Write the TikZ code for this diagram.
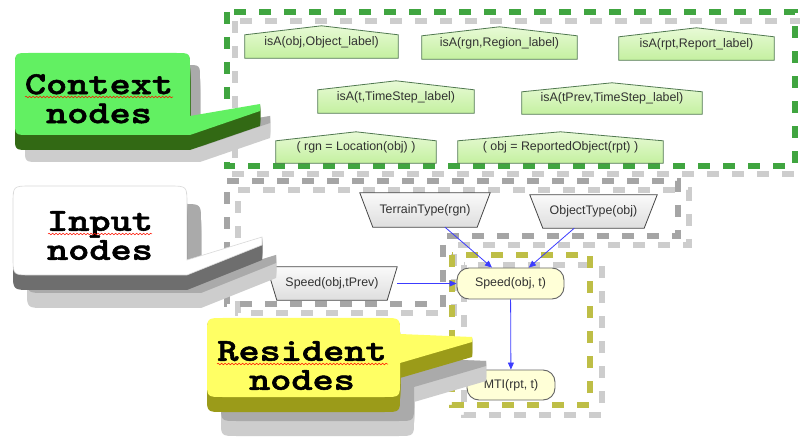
\documentclass[tikz,border=0pt]{standalone}
\usepackage{fontspec}
\setmainfont{Liberation Sans}
\newfontfamily\calfont{lmmonolt10-bold.otf}[FakeBold=1.6]
\usetikzlibrary{arrows.meta,calc,decorations.pathmorphing}
\pgfdeclarelayer{boxes}
\pgfdeclarelayer{shapes}
\pgfsetlayers{boxes,shapes,main}

\definecolor{ctxface}{RGB}{98,240,98}
\definecolor{ctxdepth}{RGB}{50,105,20}
\definecolor{inface}{RGB}{255,255,255}
\definecolor{indepth}{RGB}{110,110,110}
\definecolor{resface}{RGB}{255,255,100}
\definecolor{resdepth}{RGB}{155,155,25}
\definecolor{shadowmid}{RGB}{170,170,170}
\definecolor{shadowlight}{RGB}{205,205,205}
\definecolor{greendash}{RGB}{64,165,64}
\definecolor{graydash}{RGB}{165,165,165}
\definecolor{lightdash}{RGB}{205,205,205}
\definecolor{olivedash}{RGB}{190,190,70}
\definecolor{housetop}{RGB}{232,250,214}
\definecolor{housebot}{RGB}{196,240,160}
\definecolor{houseline}{RGB}{80,120,80}
\definecolor{traptop}{RGB}{250,250,250}
\definecolor{trapbot}{RGB}{222,222,222}
\definecolor{trapline}{RGB}{70,70,70}
\definecolor{resfill}{RGB}{255,255,215}
\definecolor{resline}{RGB}{100,100,100}
\definecolor{arrowblue}{RGB}{60,60,255}
\definecolor{txtgray}{RGB}{50,50,50}

\tikzset{
  ctxpath/.style={insert path={(29,53) -- (176,53) .. controls (190,53) .. (190,67) -- (190,116) -- (260,104) -- (260,111) -- (190,135) -- (29,135) .. controls (15,135) .. (15,121) -- (15,67) .. controls (15,53) .. (29,53) -- cycle}},
  inpath/.style={insert path={(31,186) -- (169,186) .. controls (187,186) .. (187,204) -- (187,260) -- (262,237) -- (262,245) -- (187,275) -- (31,275) .. controls (13,275) .. (13,257) -- (13,204) .. controls (13,186) .. (31,186) -- cycle}},
  respath/.style={insert path={(223,318) -- (384,318) .. controls (400,318) .. (400,334) -- (472,337) -- (472,342) -- (400,363) -- (400,381) .. controls (400,397) .. (384,397) -- (223,397) .. controls (207,397) .. (207,381) -- (207,334) .. controls (207,318) .. (223,318) -- cycle}},
  dashbox/.style={line width=5.5pt, dash pattern=on 12pt off 13pt},
  greenbox/.style={dashbox, draw=greendash},
  graybox/.style={dashbox, draw=graydash},
  lightbox/.style={dashbox, draw=lightdash},
  olivebox/.style={dashbox, draw=olivedash},
  nodetext/.style={font=\fontsize{12.4}{14}\selectfont, text=txtgray, inner sep=0pt},
  housestyle/.style={draw=houseline, line width=0.8pt, top color=housetop, bottom color=housebot},
  trapstyle/.style={draw=trapline, line width=0.8pt, top color=traptop, bottom color=trapbot},
  resnode/.style={nodetext, draw=resline, line width=0.9pt, fill=resfill, rounded corners=12pt},
  calltext/.style={font=\calfont\fontsize{32}{29}\selectfont, text=black, inner sep=0pt, align=center, anchor=north, xscale=1.26},
  squig/.style={draw=red!85!orange, line width=0.5pt, decorate, decoration={snake, amplitude=0.8pt, segment length=3.5pt}},
  arr/.style={draw=arrowblue, line width=0.8pt, -{Triangle[length=7pt,width=6pt]}}
}

\newcommand\housenode[7]{%
  \node[nodetext, minimum width={#3-#2}, minimum height={#6-#4}] (#1) at ({(#2+#3)/2},{(#4+#6)/2}) {#7};
  \begin{pgfonlayer}{shapes}
    \draw[housestyle] (#1.south west) -- ($(#1.north west)+(0,#5-#4)$) -- (#1.north) -- ($(#1.north east)+(0,#5-#4)$) -- (#1.south east) -- cycle;
  \end{pgfonlayer}}

\newcommand\trapnode[7]{%
  \node[nodetext, minimum width={#3-#2}, minimum height={#6-#5}] (#1) at ({(#2+#3)/2},{(#5+#6)/2}) {#7};
  \begin{pgfonlayer}{shapes}
    \draw[trapstyle] (#1.north west) -- (#1.north east) -- ($(#1.south east)+(-#4,0)$) -- ($(#1.south west)+(#4,0)$) -- cycle;
  \end{pgfonlayer}}

\newcommand\calloutshape[5]{%
  \foreach \d in {0,...,15}{\fill[shadowlight, shift={(#4,#5+\d)}, #1];}
  \fill[shadowmid, shift={(#4,#5)}, #1];
  \foreach \d in {1,...,15}{\fill[#3, shift={(0,\d)}, #1];}
  \fill[#2, #1];}

\begin{document}
\begin{tikzpicture}[x=1pt, y=-1pt]
\useasboundingbox (0,0) rectangle (800,443);

% dashed group outlines
\begin{pgfonlayer}{boxes}
  \fill[white] (0,0) rectangle (800,443);
  \draw[lightbox] (235,21) rectangle (803,174);
  \draw[greenbox] (227,12) rectangle (795,166);
  \draw[lightbox] (238,190) -- (689,190) -- (689,245) -- (454,245) -- (454,313) -- (238,313) -- cycle;
  \draw[graybox] (227,181) -- (678,181) -- (678,236) -- (443,236) -- (443,304) -- (227,304) -- cycle;
  \draw[lightbox] (464,265) rectangle (602,415);
  \draw[olivebox] (452,255) rectangle (590,405);
\end{pgfonlayer}

% context nodes
\housenode{cobj}{245}{398}{26}{35}{58}{isA(obj,Object\_label)}
\housenode{crgn}{422}{577}{27}{36}{59}{isA(rgn,Region\_label)}
\housenode{crpt}{619}{774}{28}{37}{60}{isA(rpt,Report\_label)}
\housenode{ct}{318}{474}{81}{90}{113}{isA(t,TimeStep\_label)}
\housenode{ctprev}{522}{702}{83}{92}{114}{isA(tPrev,TimeStep\_label)}
\housenode{cloc}{276}{436}{132}{141}{163}{( rgn = Location(obj) )}
\housenode{crep}{458}{663}{132}{141}{163}{( obj = ReportedObject(rpt) )}

% input nodes
\trapnode{terrain}{360}{490}{13}{193}{227}{TerrainType(rgn)}
\trapnode{objtype}{530}{657}{13}{195}{228}{ObjectType(obj)}
\trapnode{sprev}{267}{397}{10}{267}{300}{Speed(obj,tPrev)}

% resident nodes
\node[resnode, minimum width=107, minimum height=31] (speedt) at (510.5,283.5) {Speed(obj, t)};
\node[resnode, minimum width=88, minimum height=30] (mti) at (511,385) {MTI(rpt, t)};

% connectors
\draw[arr] (terrain) -- (speedt);
\draw[arr] (objtype) -- (speedt);
\draw[arr] (sprev) -- (speedt);
\draw[arr] (speedt) -- (mti);

% callouts
\calloutshape{ctxpath}{ctxface}{ctxdepth}{10}{12}
\calloutshape{inpath}{inface}{indepth}{14}{18}
\draw[gray!30, line width=0.6pt, inpath];
\calloutshape{respath}{resface}{resdepth}{14}{24}

\node[calltext] (ctxlab) at (99,74) {Context\\nodes};
\node[calltext] (inlab) at (100,211) {Input\\nodes};
\node[calltext] (reslab) at (302,341) {Resident\\nodes};

\coordinate (sqA1) at (25,97);  \coordinate (sqA2) at (173,97);
\coordinate (sqB1) at (48,234); \coordinate (sqB2) at (152,234);
\coordinate (sqC1) at (217,364); \coordinate (sqC2) at (388,364);
\draw[squig] (sqA1) -- (sqA2);
\draw[squig] (sqB1) -- (sqB2);
\draw[squig] (sqC1) -- (sqC2);
\end{tikzpicture}
\end{document}
